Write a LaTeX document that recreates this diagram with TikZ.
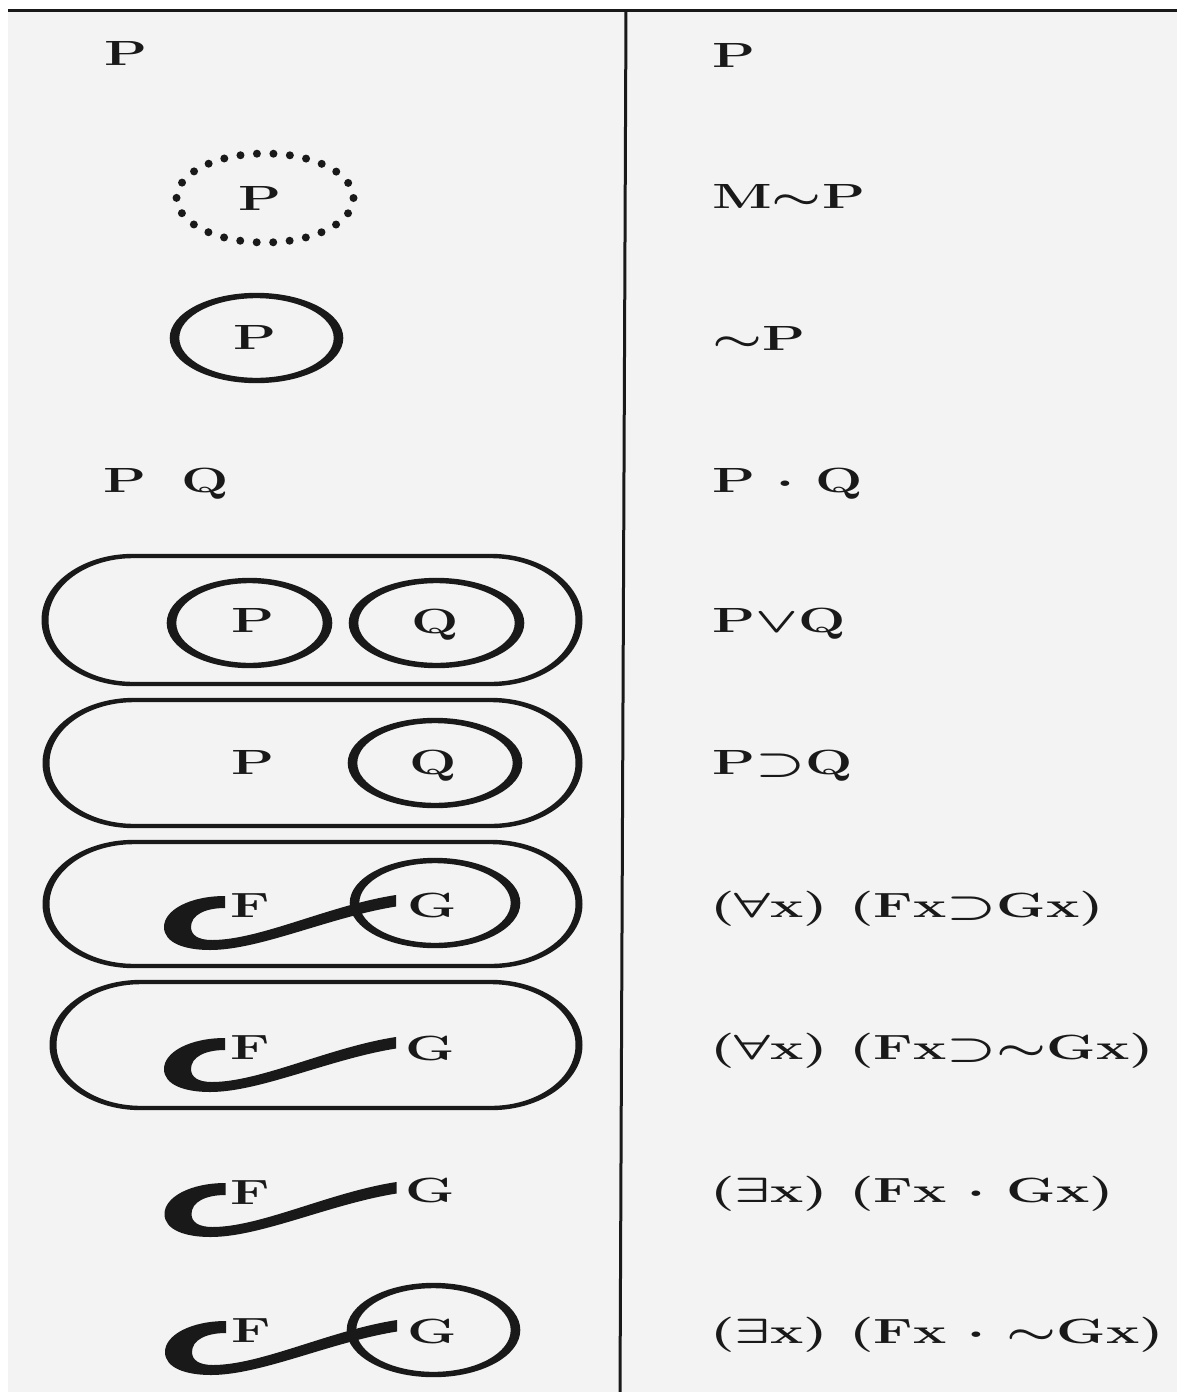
\RequirePackage{fix-cm}
\documentclass[tikz,border=0pt]{standalone}
\usepackage{graphicx}
\usetikzlibrary{shapes.geometric}
\definecolor{ink}{RGB}{25,25,25}
\definecolor{paper}{RGB}{243,243,243}
\newcommand{\wide}[1]{\scalebox{1.6}[1]{\bfseries\boldmath #1}}
\newcommand{\myring}[4]{\fill[ink,even odd rule] (#1,#2) ellipse [x radius={#3+4.8}, y radius={#4+2.7}] (#1,#2) ellipse [x radius={#3-4.8}, y radius={#4-2.7}];}
\newcommand{\stadpath}[6]{({#1+#5},{#2}) -- ({#3-#5},{#2}) arc[start angle=-90,end angle=90,x radius={#5},y radius={#6}] -- ({#1+#5},{#4}) arc[start angle=90,end angle=270,x radius={#5},y radius={#6}] -- cycle}
\newcommand{\mystad}[4]{\fill[ink,even odd rule] \stadpath{(#1-3.5)}{(#2-2.2)}{(#3+3.5)}{(#4+2.2)}{91.5}{((#4-#2)/2+2.2)} \stadpath{(#1+3.5)}{(#2+2.2)}{(#3-3.5)}{(#4-2.2)}{84.5}{((#4-#2)/2-2.2)};}
\tikzset{
  hook/.pic={\fill[ink] (-25,-9) .. controls (-60,-9) and (-86,5) .. (-86,22)
     .. controls (-86,38) and (-65,45) .. (-40,45)
     .. controls (10,45) and (80,12) .. (146,1.5)
     -- (146,-10)
     .. controls (80,0) and (10,35) .. (-38,35)
     .. controls (-52,35) and (-59,30) .. (-59,22)
     .. controls (-59,10) and (-45,3) .. (-25,3) -- cycle;}
}
\begin{document}
\begin{tikzpicture}[x=1pt,y=-1pt,
  lab/.style={inner sep=0pt, anchor=base, text=ink, font=\fontsize{35}{40}\selectfont},
  rt/.style={lab, anchor=base west}]
\useasboundingbox (0,0) rectangle (1177,1392);
\fill[white] (0,0) rectangle (1177,1392);
\fill[paper] (8,10) rectangle (1177,1392);
\draw[ink, line width=3pt] (8,10) -- (1177,10);
\draw[ink, line width=3pt] (626,10) -- (620,1392);
% right column
\node[rt] (r1) at (712,67) {\wide{P}};
\node[rt] (r2) at (712,208) {\wide{M$\sim$P}};
\node[rt] (r3) at (712,350) {\wide{$\sim$P}};
\node[rt] (r4) at (712,492) {\wide{P $\cdot$ Q}};
\node[rt] (r5) at (712,632) {\wide{P$\vee$Q}};
\node[rt] (r6) at (712,774) {\wide{P$\supset$Q}};
\node[rt] (r7) at (710,917) {\wide{($\forall$x) (Fx$\supset$Gx)}};
\node[rt] (r8) at (710,1059) {\wide{($\forall$x) (Fx$\supset\sim$Gx)}};
\node[rt] (r9) at (710,1202) {\wide{($\exists$x) (Fx $\cdot$ Gx)}};
\node[rt] (r10) at (710,1343) {\wide{($\exists$x) (Fx $\cdot$ $\sim$Gx)}};
% left column
\node[lab] (l1) at (126,65) {\wide{P}};
\draw[ink, line width=8pt, line cap=round, dash pattern=on 0pt off 16.52pt] (265,198) ellipse [x radius=88.5, y radius=44.5];
\node[lab] (l2) at (260,210) {\wide{P}};
\myring{256.5}{338}{82}{42.5}
\node[lab] (l3) at (255,349) {\wide{P}};
\node[lab] (l4p) at (125,492) {\wide{P}};
\node[lab] (l4q) at (205,492) {\wide{Q}};
% row 5
\mystad{45}{556}{579}{684}
\myring{249.5}{623}{78}{42.5}
\myring{436.5}{623}{83}{42.5}
\node[lab] (l5p) at (253,632) {\wide{P}};
\node[lab] (l5q) at (435,633) {\wide{Q}};
% row 6
\mystad{46}{700}{579}{826}
\myring{435}{763}{82.5}{42.5}
\node[lab] (l6p) at (253,774) {\wide{P}};
\node[lab] (l6q) at (433,774) {\wide{Q}};
% row 7
\mystad{46}{842}{579}{966}
\myring{435}{903}{80.5}{42.5}
\pic at (250,905) {hook};
\node[lab] (l7f) at (250,917) {\wide{F}};
\node[lab] (l7g) at (432,917) {\wide{G}};
% row 8
\mystad{53}{982}{579}{1108}
\pic at (250,1047) {hook};
\node[lab] (l8f) at (250,1059) {\wide{F}};
\node[lab] (l8g) at (430,1060) {\wide{G}};
% row 9
\pic at (250.5,1192) {hook};
\node[lab] (l9f) at (250.5,1204) {\wide{F}};
\node[lab] (l9g) at (430,1202) {\wide{G}};
% row 10
\myring{433.5}{1330}{82}{44.5}
\pic at (251,1330) {hook};
\node[lab] (l10f) at (251,1342) {\wide{F}};
\node[lab] (l10g) at (432,1343) {\wide{G}};
\end{tikzpicture}
\end{document}
